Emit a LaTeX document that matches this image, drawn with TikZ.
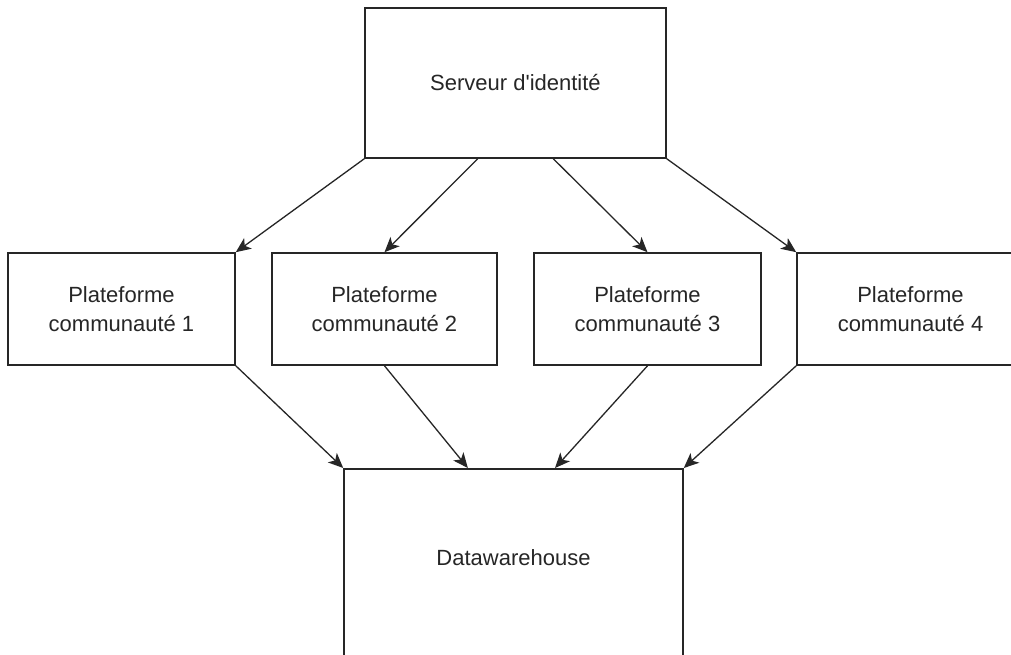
\documentclass[tikz,border=0pt]{standalone}
\usepackage{fontspec}
\setmainfont{Liberation Sans}
\usetikzlibrary{arrows.meta,calc}
\begin{document}
\begin{tikzpicture}[x=1pt,y=-1pt,
  box/.style={draw=black!85,line width=1.6pt,fill=white,inner sep=0pt,
    font=\fontsize{22}{29}\selectfont,text=black!85,align=center},
  flow/.style={draw=black!85,line width=1.3pt,
    -{Stealth[length=15pt,width=13pt,inset=4pt]}}]
  \useasboundingbox (0,0) rectangle (1011,655);
  \clip (0,0) rectangle (1011,655);
  \fill[white] (0,0) rectangle (1011,655);

  % identity server
  \node[box,minimum width=301,minimum height=150] (srv) at (515.5,83) {Serveur d\textquotesingle identit\'e};

  % community platforms
  \node[box,minimum width=227,minimum height=112] (p1) at (121.5,309) {Plateforme\\communaut\'e 1};
  \node[box,minimum width=225,minimum height=112] (p2) at (384.5,309) {Plateforme\\communaut\'e 2};
  \node[box,minimum width=227,minimum height=112] (p3) at (647.5,309) {Plateforme\\communaut\'e 3};
  \node[box,minimum width=227,minimum height=112] (p4) at (910.5,309) {Plateforme\\communaut\'e 4};

  % data warehouse
  \node[box,minimum width=339,minimum height=240,anchor=north] (dw) at (513.5,468) {};
  \node[font=\fontsize{22}{29}\selectfont,text=black!85] (dwlabel) at ($(dw.north)+(0,90)$) {Datawarehouse};

  % server to platforms
  \draw[flow] (srv.south west) -- (p1.north east);
  \draw[flow] ($(srv.south west)!0.375!(srv.south east)$) -- (p2.north);
  \draw[flow] ($(srv.south west)!0.625!(srv.south east)$) -- (p3.north);
  \draw[flow] (srv.south east) -- (p4.north west);

  % platforms to data warehouse
  \draw[flow] (p1.south east) -- (dw.north west);
  \draw[flow] (p2.south) -- ($(dw.north west)!0.366!(dw.north east)$);
  \draw[flow] (p3.south) -- ($(dw.north west)!0.622!(dw.north east)$);
  \draw[flow] (p4.south west) -- (dw.north east);
\end{tikzpicture}
\end{document}
